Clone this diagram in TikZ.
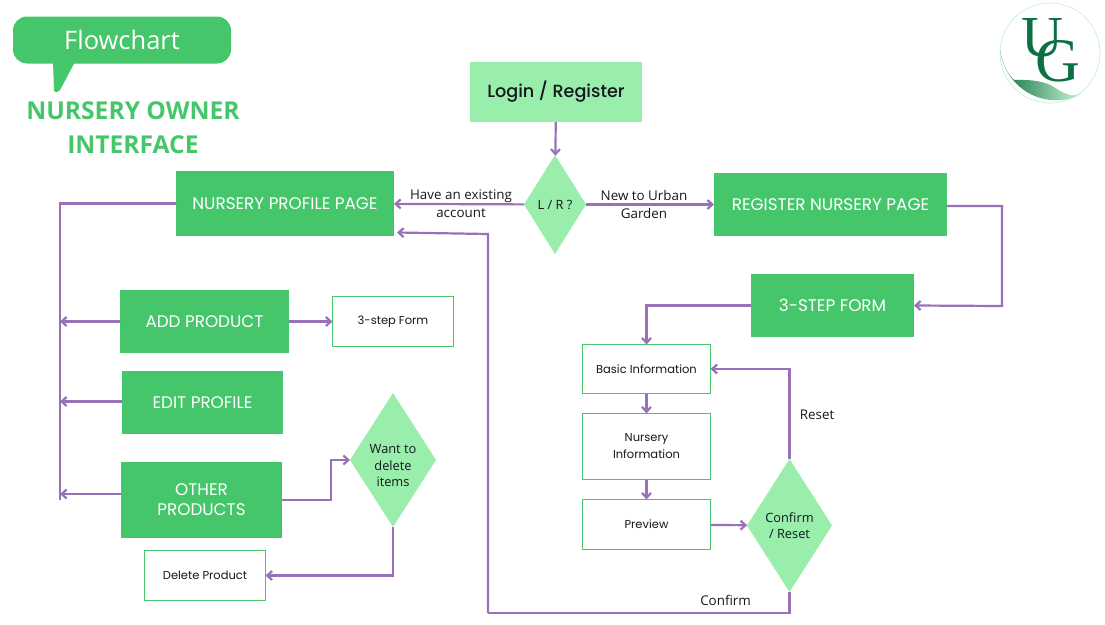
\documentclass[tikz,border=0pt]{standalone}
\usepackage{fontspec}
\setmainfont{Open Sans}
\newfontfamily\boxfont{Poppins}
\newfontfamily\medfont{Poppins Medium}
\newfontfamily\logofont{Liberation Serif}
\usetikzlibrary{
  arrows.meta,
  shapes.geometric,
  positioning,
  calc
}
\definecolor{xgreen}{RGB}{69,198,107}
\definecolor{xpale}{RGB}{152,238,170}
\definecolor{xpurple}{RGB}{152,113,185}
\definecolor{xlogo}{RGB}{12,112,68}
\definecolor{xink}{RGB}{20,24,30}

\begin{document}
\begin{tikzpicture}[
  x=1pt, y=-1pt,
  solidbox/.style={fill=xgreen, inner sep=0pt, outer sep=0pt, align=center,
              font=\boxfont\fontsize{16.8}{20}\selectfont, text=white},
  palebox/.style={fill=xpale, inner sep=0pt, outer sep=0pt, align=center,
              font=\medfont\fontsize{17.6}{20}\selectfont, text=xink},
  formbox/.style={draw=xgreen, line width=1pt, fill=white, inner sep=0pt, outer sep=0pt,
              align=center, font=\boxfont\fontsize{11.5}{17}\selectfont, text=xink},
  decision/.style={diamond, aspect=0.64, fill=xpale, inner sep=0pt, outer sep=0pt, align=center,
              font=\fontsize{12.8}{16.5}\selectfont, text=xink},
  arr/.style={-{Straight Barb[length=5pt,width=9pt]}, color=xpurple, line width=2.2pt},
  wire/.style={color=xpurple, line width=2.2pt},
  note/.style={font=\fontsize{13.4}{18}\selectfont, text=xink, align=center}
]
  \useasboundingbox (0,0) rectangle (1105,624);

  % title bubble
  \fill[xgreen, rounded corners=2pt] (53,60) -- (54,92) -- (59,92) -- (76,60) -- cycle;
  \node[fill=xgreen, rounded corners=14pt, inner sep=0pt, outer sep=0pt, text=white,
        minimum width=218pt, minimum height=47pt,
        font=\fontsize{25.5}{28}\selectfont] (bubble) at (122,40) {Flowchart};
  \node[font=\bfseries\fontsize{24.6}{34}\selectfont, text=xgreen, align=center] (title) at (133,128)
    {NURSERY OWNER\\INTERFACE};

  % logo
  \draw[xpale!70, line width=0.6pt] (1050,53) circle (50);
  \shade[left color=xlogo, right color=xpale!50]
    (1000,50) .. controls (1003,75) and (1025,103) .. (1062,100)
    .. controls (1070,99) and (1078,97) .. (1082,93)
    .. controls (1068,100) and (1058,88) .. (1048,84)
    .. controls (1035,79) and (1020,80) .. (1014,80)
    .. controls (1006,72) and (1002,62) .. (1000,50) -- cycle;
  \node[font=\logofont\fontsize{58}{58}\selectfont, text=xlogo, inner sep=0pt] (logou) at (1042,38) {U};
  \node[font=\logofont\fontsize{62}{62}\selectfont, text=xlogo, inner sep=0pt] (logog) at (1058,61) {G};

  % login and first decision
  \node[palebox, minimum width=172pt, minimum height=60pt] (login) at (556,92) {Login / Register};
  \node[decision, minimum width=62pt, minimum height=99pt] (lr) at (555,204.5) {L / R ?};

  % top row
  \node[solidbox, minimum width=218pt, minimum height=65pt] (profile) at (285,203.5) {NURSERY PROFILE PAGE};
  \node[solidbox, minimum width=233pt, minimum height=63pt] (register) at (830.5,204.5) {REGISTER NURSERY PAGE};

  % left side
  \node[solidbox, minimum width=169pt, minimum height=63pt] (addprod) at (204.5,321.5) {ADD PRODUCT};
  \node[formbox, minimum width=121pt, minimum height=50pt] (stepleft) at (393,321.5) {3-step Form};
  \node[solidbox, minimum width=161pt, minimum height=63pt] (editprof) at (202.5,402.5) {EDIT PROFILE};
  \node[solidbox, minimum width=161pt, minimum height=76pt] (other) at (201.5,500) {OTHER\\PRODUCTS};
  \node[decision, minimum width=86pt, minimum height=134pt] (want) at (393,460) {\rule{0pt}{21pt}Want to\\delete\\items};
  \node[formbox, minimum width=121pt, minimum height=50pt] (delprod) at (205,575.5) {Delete Product};

  % right side
  \node[solidbox, minimum width=163pt, minimum height=63pt] (stepform) at (832.5,305.5) {3-STEP FORM};
  \node[formbox, minimum width=128pt, minimum height=49pt] (basic) at (646.5,369) {Basic Information};
  \node[formbox, minimum width=128pt, minimum height=66pt] (nursinfo) at (646.5,446.5) {Nursery\\Information};
  \node[formbox, minimum width=128pt, minimum height=50pt] (preview) at (646.5,524.5) {Preview};
  \node[decision, minimum width=85pt, minimum height=133pt] (confirm) at (789.5,525.5) {Confirm\\/ Reset};

  % free corners of the long wires
  \coordinate (spinetop) at (60,203.5);
  \coordinate (spinebot) at (60,500);
  \coordinate (backup) at (488,613);
  \coordinate (backtop) at (488,234);

  \draw[arr] (login) -- (lr);
  \draw[arr] (lr) -- node[note, xshift=2pt] (existing) {Have an existing\\account} (profile);
  \draw[arr] (lr) -- node[note, xshift=-6pt] (newto) {New to Urban\\Garden} (register);
  \draw[arr] ($(register.east)+(0,1.5)$) -- ++(55,0) -- ++(0,100) -- (stepform.east);
  \draw[arr] (stepform.west) -| (basic.north);
  \draw[arr] (basic) -- (nursinfo);
  \draw[arr] (nursinfo) -- (preview);
  \draw[arr] (preview) -- (confirm);
  \draw[arr] (confirm.north) |- node[note, pos=0.25, right, xshift=6pt, yshift=-1pt] (reset) {Reset} (basic.east);
  \draw[wire, line join=miter] (confirm.south) |- (backup) node[note, pos=0.606, above, yshift=3pt] (confirmlbl) {Confirm};
  \draw[arr] (backup) -- (backtop) -- ($(profile.east)+(3,29)$);

  \draw[wire] (profile.west) -- (spinetop) -- (spinebot);
  \draw[arr] (addprod) -- (stepleft);
  \draw[arr] (addprod.west) -- (addprod.west -| spinetop);
  \draw[arr] ($(editprof.west)+(0,-1)$) -- ($(editprof.west -| spinetop)+(0,-1)$);
  \draw[arr] ($(other.west)+(0,-6)$) -- ($(other.west -| spinetop)+(0,-6)$);
  \draw[arr] (other.east) -- ++(49,0) |- (want.west);
  \draw[arr] (want.south) |- (delprod.east);
\end{tikzpicture}
\end{document}
